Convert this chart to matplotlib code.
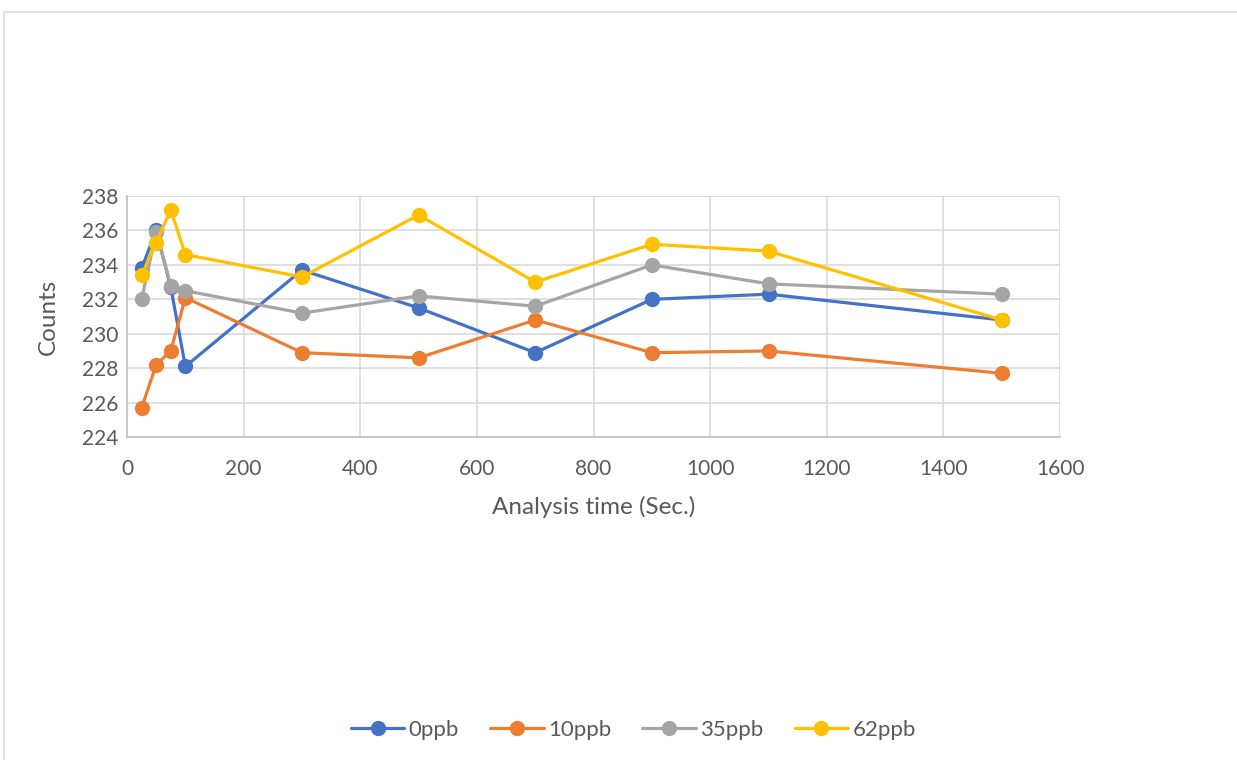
import matplotlib.pyplot as plt
from matplotlib.patches import Rectangle

# Analysis time (s) and counts per concentration
time_s = [25, 50, 75, 100, 300, 500, 700, 900, 1100, 1500]
counts_0ppb = [233.8, 236.0, 232.7, 228.1, 233.7, 231.5, 228.9, 232.0, 232.3, 230.8]
counts_10ppb = [225.7, 228.2, 229.0, 232.1, 228.9, 228.6, 230.8, 228.9, 229.0, 227.7]
counts_35ppb = [232.0, 235.9, 232.8, 232.5, 231.2, 232.2, 231.6, 234.0, 232.9, 232.3]
counts_62ppb = [233.4, 235.3, 237.2, 234.6, 233.3, 236.9, 233.0, 235.2, 234.8, 230.8]

series = [
    ('0ppb', counts_0ppb, '#4472c4'),
    ('10ppb', counts_10ppb, '#ed7d31'),
    ('35ppb', counts_35ppb, '#a5a5a5'),
    ('62ppb', counts_62ppb, '#ffc000'),
]

plt.rcParams['font.family'] = ['Lato', 'DejaVu Sans']

fig = plt.figure(figsize=(12.37, 7.6), dpi=100)
ax = fig.add_axes([0.1027, 0.425, 0.7543, 0.317])

# chart-area border
fig.patches.append(Rectangle((4 / 1237, -0.05), 1.1, 1 - 12 / 760 + 0.05,
                             transform=fig.transFigure, fill=False,
                             edgecolor='#d9d9d9', linewidth=1.2))

for name, vals, col in series:
    ax.plot(time_s, vals, color=col, lw=2.3, marker='o', ms=10, label=name,
            solid_capstyle='round')

ax.set_xlim(0, 1600)
ax.set_ylim(224, 238)
ax.set_xticks(range(0, 1601, 200))
ax.set_yticks(range(224, 239, 2))
ax.grid(True, color='#d9d9d9', lw=1.2)
ax.set_axisbelow(True)
for side in ['top', 'right']:
    ax.spines[side].set_visible(False)
for side in ['left', 'bottom']:
    ax.spines[side].set_color('#bfbfbf')
    ax.spines[side].set_linewidth(1.2)
ax.tick_params(length=0, labelsize=15, colors='#595959')
ax.tick_params(axis='x', pad=16)
ax.tick_params(axis='y', pad=6)

ax.set_xlabel('Analysis time (Sec.)', fontsize=17.5, color='#595959', labelpad=12)
ax.set_ylabel('Counts', fontsize=17.5, color='#595959', labelpad=17)

fig.legend(loc='center', bbox_to_anchor=(0.512, 0.04), ncol=4, frameon=False,
           fontsize=16, labelcolor='#595959', handlelength=2.4,
           columnspacing=1.4, handletextpad=0.2)

fig.savefig('out.png', dpi=100)
